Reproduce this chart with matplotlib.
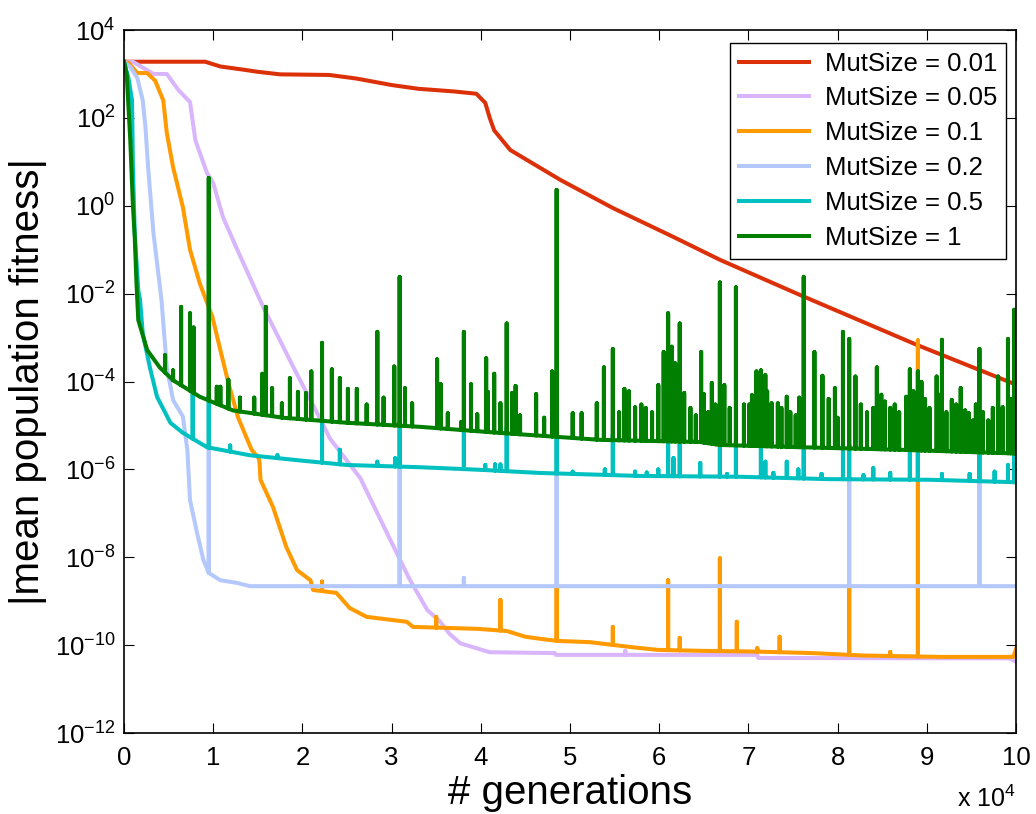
import numpy as np
import matplotlib
matplotlib.use('Agg')
import matplotlib.pyplot as plt
from matplotlib.ticker import FixedLocator, FuncFormatter, NullLocator

plt.rcParams['font.family'] = ['Liberation Sans', 'DejaVu Sans']
plt.rcParams['mathtext.fontset'] = 'custom'
plt.rcParams['mathtext.rm'] = 'Liberation Sans'

# --- mean |fitness| per run, sampled at turning points (generation, value) ---
gen_001 = [0, 9100, 10800, 13300, 15000, 17500, 23000, 26000, 30000, 33000, 37000, 39500,
           40500, 41000, 41500, 43300, 48900, 54800, 61600, 66800, 75800, 88900, 100000]
fit_001 = [1.9e3, 1.9e3, 1.48e3, 1.26e3, 1.12e3, 9.8e2, 9.5e2, 7.9e2, 5.6e2, 4.6e2, 4.0e2, 3.55e2,
           2.2e2, 1.0e2, 52, 18.6, 3.9, 0.89, 0.195, 0.059, 9.3e-3, 6.8e-4, 8.5e-5]

gen_005 = [0, 1000, 3300, 4800, 6100, 7400, 8000, 9300, 10000, 11100, 12700, 15600, 19000,
           22000, 23100, 26500, 29500, 32000, 34000, 35400, 36500, 37700, 41000, 48300,
           48400, 71000, 71100, 99300, 100000]
fit_005 = [1.9e3, 1.9e3, 1.0e3, 1.0e3, 4.3e2, 2.3e2, 31, 5.6, 3.3, 0.55, 0.1, 5e-3, 2.1e-4,
           1.4e-5, 5e-6, 6.3e-7, 3.5e-8, 3.2e-9, 6.3e-10, 3.5e-10, 1.8e-10, 1.1e-10, 6.9e-11,
           6.6e-11, 6.0e-11, 6.0e-11, 5.1e-11, 5.0e-11, 4.2e-11]

gen_01 = [0, 500, 1500, 2600, 3500, 4400, 4800, 5500, 6600, 7400, 8500, 9900, 10800, 11700,
          12800, 14300, 15100, 15200, 15300, 16700, 18200, 19400, 20900, 21200, 23800, 25300,
          27200, 31700, 32400, 39600, 42900, 45000, 46600, 48500, 52200, 56700, 59800, 64900,
          70000, 77100, 82900, 91500, 99700, 100000]
fit_01 = [1.9e3, 1.8e3, 1.05e3, 1.05e3, 7e2, 2.5e2, 45, 7.6, 0.93, 0.1, 1.7e-2, 3e-3, 5.2e-4,
          9.3e-5, 1.5e-5, 2.8e-6, 1.8e-6, 1.4e-6, 5.8e-7, 1.4e-7, 1.7e-8, 5.1e-9, 3e-9, 1.8e-9,
          1.55e-9, 7e-10, 4.4e-10, 3.4e-10, 2.6e-10, 2.35e-10, 2.1e-10, 1.55e-10, 1.4e-10,
          1.25e-10, 1.17e-10, 9.1e-11, 7.8e-11, 7.4e-11, 7.2e-11, 6.6e-11, 5.8e-11, 5.4e-11,
          5.4e-11, 8.1e-11]

gen_02 = [0, 700, 1500, 2100, 2400, 2700, 3300, 4200, 4800, 5500, 6600, 7100, 7400, 8200,
          8900, 9500, 10800, 12700, 14100, 100000]
fit_02 = [1.9e3, 1.45e3, 8e2, 2.5e2, 63, 7.6, 0.24, 7.2e-3, 2.1e-4, 3.8e-5, 1.6e-5, 2.8e-6,
          2.0e-7, 3.5e-8, 8.7e-9, 4.4e-9, 3.0e-9, 2.6e-9, 2.2e-9, 2.2e-9]

gen_05 = [0, 500, 900, 1000, 1200, 1600, 1800, 2100, 2900, 3700, 5200, 6600, 9300, 14100,
          19700, 25000, 33200, 39900, 46600, 57800, 69000, 79000, 90400, 100000]
fit_05 = [1.9e3, 8e2, 2.5e2, 7.6, 0.24, 1.2e-2, 7.2e-3, 1.26e-3, 2.1e-4, 4.5e-5, 1.15e-5,
          6.8e-6, 3.2e-6, 2.1e-6, 1.6e-6, 1.26e-6, 1.12e-6, 9.8e-7, 8.3e-7, 7.1e-7, 6.8e-7,
          6.0e-7, 5.8e-7, 5.1e-7]

gen_1 = [0, 300, 700, 1000, 1200, 1400, 1600, 2600, 4000, 5500, 8500, 12200, 17800, 25000,
         33200, 42000, 53400, 64600, 66800, 75800, 87000, 100000]
fit_1 = [1.9e3, 1e3, 32, 1.0, 0.2, 1.7e-2, 2.5e-3, 5.2e-4, 2.1e-4, 1.07e-4, 4.5e-5, 2.2e-5,
         1.5e-5, 1.15e-5, 9.3e-6, 6.8e-6, 4.7e-6, 4.2e-6, 3.6e-6, 3.2e-6, 2.8e-6, 2.3e-6]

# --- one-generation outliers (generation, peak value) ---
spk_gen_005 = [56200]
spk_fit_005 = [7.4e-11]

spk_gen_01 = [22200, 35000, 42200, 48500, 54800, 61000, 62300, 66800, 68700, 71000, 73500,
              81300, 85900, 89000]
spk_fit_01 = [2.8e-9, 4.4e-10, 1.07e-9, 2.2e-9, 2.6e-10, 3e-9, 1.45e-10, 9.5e-9, 3.4e-10,
              8.5e-11, 1.55e-10, 2.2e-9, 7e-11, 8.7e-4]

spk_gen_02 = [9500, 30900, 38100, 48500, 81300, 95900]
spk_fit_02 = [3.5e-6, 1.1e-6, 3.4e-9, 8.3e-7, 6.3e-7, 5.6e-7]

spk_gen_05 = [7700, 9500, 11900, 17200, 22200, 24200, 28400, 30400, 30900, 38100, 40500,
              41600, 42200, 42900, 48500, 50300, 53900, 54800, 57300, 58600, 59900, 61000,
              61600, 62300, 64600, 66800, 67600, 68600, 71400, 71900, 72800, 74300, 75600,
              76200, 78200, 80600, 81300, 82900, 84000, 85900, 88100, 89000, 91700, 94800,
              95900, 97600, 99100, 99800]
spk_fit_05 = [7.1e-5, 4.7e-5, 3.5e-6, 2.1e-6, 1.6e-5, 2.8e-6, 1.5e-6, 1.8e-6, 1.2e-5, 1.0e-5,
              1.26e-6, 1.3e-6, 1.3e-6, 8.9e-6, 7.6e-6, 8.9e-7, 1.0e-6, 6.3e-6, 8.9e-7, 8.5e-7,
              1.0e-6, 5.6e-6, 1.8e-6, 5.4e-6, 1.4e-6, 4.7e-6, 7.9e-7, 4.5e-6, 4.3e-6, 1.5e-6,
              8.3e-7, 1.5e-6, 1.0e-6, 4.0e-6, 7.9e-7, 3.7e-6, 3.7e-6, 7.4e-7, 1.07e-6, 8.3e-7,
              3.4e-6, 3.4e-6, 7.9e-7, 7.9e-7, 3.2e-6, 8.9e-7, 1.26e-6, 3.0e-6]

spk_gen_1 = [4600, 5500, 6400, 7400, 7800, 9500, 10400, 10800, 11700, 13000, 14600, 15500,
             15900, 16600, 17700, 18600, 19500, 20400, 21000, 22200, 23300, 24200, 25100,
             26100, 27200, 28400, 29100, 30300, 30900, 31500, 32300, 35100, 35500, 36300,
             37800, 38100, 38900, 39600, 40600, 40800, 41500, 42200, 42900, 43500, 43900,
             44400, 46200, 47100, 48000, 48500, 50300, 51300, 53000, 53800, 54800, 55500,
             56100, 56600, 57300, 58000, 58500, 59200, 59900, 60500, 61000, 61400, 61800,
             62300, 62800, 63500, 64100, 64700, 65000, 65500, 65900, 66300, 66800, 67300,
             67900, 68600, 69500, 70100, 70400, 70900, 71400, 71900, 72100, 72600, 73300,
             73700, 74300, 74700, 75300, 75700, 76200, 77400, 78300, 79000, 79700, 80000,
             80600, 81300, 82000, 82600, 83300, 84000, 84400, 84900, 85300, 85900, 86400,
             86900, 87700, 88100, 88500, 89000, 89400, 89800, 90300, 91100, 91400, 91700,
             92200, 92800, 93300, 93800, 94300, 94700, 95200, 95500, 95900, 96300, 96900,
             97400, 98000, 98500, 99100, 99400, 99800]
spk_fit_1 = [4.0e-4, 1.8e-4, 5.0e-3, 3.6e-3, 1.7e-3, 4.3, 7.6e-5, 7.6e-5, 1.1e-4, 4.3e-5,
             4.3e-5, 1.5e-4, 5.0e-3, 7.1e-5, 3.2e-5, 1.2e-4, 5.8e-5, 5.5e-5, 1.7e-4, 7.6e-4,
             1.9e-4, 1.2e-4, 6.8e-5, 6.8e-5, 3.0e-5, 1.35e-3, 4.3e-5, 2.2e-4, 2.4e-2, 7.1e-5,
             3.2e-5, 3.2e-4, 8.7e-5, 1.9e-5, 1.2e-5, 1.35e-3, 8.7e-5, 1.8e-5, 3.4e-4, 5.8e-5,
             1.5e-4, 3.2e-5, 2.1e-3, 5.5e-5, 7.9e-5, 1.7e-5, 5.2e-5, 1.5e-5, 1.7e-4, 2.3,
             1.9e-5, 1.9e-5, 3.2e-5, 2.1e-4, 5.5e-4, 2.0e-5,
             6.8e-5, 6.0e-5, 2.6e-5, 3.0e-5, 2.5e-5, 2.0e-5, 8.3e-5, 4.7e-4, 3.6e-3, 6.2e-4,
             2.6e-4, 2.1e-3, 5.5e-5, 2.5e-5, 1.7e-5, 4.7e-4, 5.2e-5, 2.0e-5, 9.3e-5, 3.0e-5,
             1.8e-2, 8.3e-5, 2.5e-5, 1.4e-2, 3.0e-5, 3.0e-5, 4.9e-5, 1.7e-4, 1.8e-4, 1.4e-4,
             6.0e-5, 3.2e-5, 3.2e-5, 2.5e-5, 4.5e-5, 2.0e-5, 1.7e-5, 4.3e-5, 2.4e-2, 4.7e-4,
             1.35e-4, 4.0e-5, 7.1e-5, 1.5e-5, 1.35e-3, 9.3e-4, 1.3e-4, 3.0e-5, 2.0e-5, 2.5e-5,
             2.1e-4, 5.0e-5, 3.5e-5, 2.5e-5, 3.0e-5, 2.0e-5, 4.5e-5, 1.9e-4, 6.0e-5, 1.7e-4,
             9.8e-5, 4.0e-5, 2.5e-5, 1.3e-4, 5.0e-5, 8.9e-4, 2.0e-5, 3.8e-5, 3.0e-5, 7.1e-5,
             2.2e-5, 1.9e-5, 1.3e-5, 3.0e-5, 5.5e-4, 2.0e-5, 1.3e-5, 2.5e-5, 1.3e-4, 2.6e-5,
             9.3e-4, 4.0e-5, 4.3e-3]

series = [
    ('MutSize = 0.01', gen_001, fit_001, [], [], '#dc3008'),
    ('MutSize = 0.05', gen_005, fit_005, spk_gen_005, spk_fit_005, '#d9b5fc'),
    ('MutSize = 0.1', gen_01, fit_01, spk_gen_01, spk_fit_01, '#ff9a00'),
    ('MutSize = 0.2', gen_02, fit_02, spk_gen_02, spk_fit_02, '#b4c8fc'),
    ('MutSize = 0.5', gen_05, fit_05, spk_gen_05, spk_fit_05, '#00c0c0'),
    ('MutSize = 1', gen_1, fit_1, spk_gen_1, spk_fit_1, '#007f00'),
]


def with_spikes(gx, gy, sx, sy):
    """Insert single-generation outliers into a trace, rising from the trend line."""
    gx = np.asarray(gx, float)
    logy = np.log10(gy)
    xs, ys = list(gx), list(np.asarray(gy, float))
    for g, peak in zip(sx, sy):
        base = 10 ** np.interp(g, gx, logy)
        xs += [g, g, g]
        ys += [base, peak, base]
    order = np.argsort(xs, kind='stable')
    return np.array(xs)[order], np.array(ys)[order]


fig = plt.figure(figsize=(10.36, 8.14), dpi=100)
ax = fig.add_axes([0.1197, 0.0995, 0.8610, 0.8636])

for label, gx, gy, sx, sy, color in series:
    x, y = with_spikes(gx, gy, sx, sy)
    ax.plot(x, y, color=color, lw=2.9, label=label, solid_joinstyle='round')

ax.set_yscale('log')
ax.set_xlim(0, 100000)
ax.set_ylim(1e-12, 1e4)

ax.xaxis.set_major_locator(FixedLocator(np.arange(0, 100001, 10000)))
ax.xaxis.set_major_formatter(FuncFormatter(lambda v, p: '%d' % round(v / 1e4)))
ax.yaxis.set_major_locator(FixedLocator([10.0 ** k for k in range(-12, 5, 2)]))
ax.yaxis.set_major_formatter(FuncFormatter(
    lambda v, p: r'$\mathregular{10^{%d}}$' % round(np.log10(v))))
ax.yaxis.set_minor_locator(NullLocator())
ax.tick_params(which='both', direction='in', length=7, width=0.8,
               top=True, right=True, labelsize=18.5)
ax.tick_params(axis='x', pad=9)
ax.tick_params(axis='y', pad=6)
for sp in ax.spines.values():
    sp.set_linewidth(1.2)

ax.set_xlabel('# generations', fontsize=29, labelpad=3)
ax.set_ylabel('|mean population fitness|', fontsize=29, labelpad=6)
fig.text(0.924, 0.009, r'x $\mathregular{10^{4}}$', fontsize=18)

leg = ax.legend(loc='upper right', bbox_to_anchor=(0.989, 0.982), fontsize=18.5,
                frameon=True, fancybox=False, edgecolor='black', framealpha=1,
                handlelength=2.75, labelspacing=0.42, borderpad=0.35,
                handletextpad=0.6, borderaxespad=0)
leg.get_frame().set_linewidth(1.0)

fig.savefig('out.png', dpi=100)
